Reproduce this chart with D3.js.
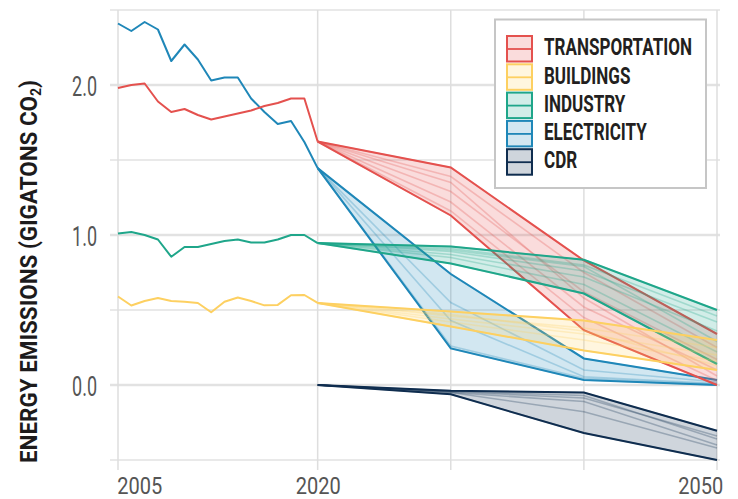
<!DOCTYPE html>
<html><head><meta charset="utf-8">
<script src="https://cdn.jsdelivr.net/npm/d3@7"></script>
<style>
html,body{margin:0;padding:0;background:#fff;}
svg{display:block;}
</style></head>
<body>
<svg id="chart" width="738" height="499"></svg>
<script>
// ---------- DATA ----------
const histYears = [2005,2006,2007,2008,2009,2010,2011,2012,2013,2014,2015,2016,2017,2018,2019,2020];
const transportHist   = [1.98,2.00,2.01,1.89,1.82,1.84,1.80,1.77,1.79,1.81,1.83,1.86,1.88,1.91,1.91,1.623];
const buildingsHist   = [0.59,0.53,0.56,0.58,0.56,0.555,0.547,0.485,0.555,0.583,0.56,0.531,0.534,0.598,0.60,0.547];
const industryHist    = [1.01,1.02,1.00,0.97,0.855,0.92,0.92,0.94,0.96,0.97,0.95,0.95,0.97,1.00,1.00,0.946];
const electricityHist = [2.41,2.36,2.42,2.37,2.16,2.27,2.17,2.03,2.05,2.05,1.91,1.82,1.74,1.76,1.62,1.446];

const scenYears = [2020,2030,2040,2050];
// scenario values for 2030, 2040, 2050 (2020 starts from the last historical value)
const transportScen = [
  [1.45,0.83,0.34],[1.13,0.365,0.00],[1.39,0.75,0.25],[1.29,0.62,0.17],
  [1.22,0.52,0.10],[1.16,0.45,0.03],[1.35,0.58,0.06]
];
const buildingsScen = [
  [0.49,0.43,0.30],[0.39,0.23,0.10],[0.46,0.38,0.25],[0.44,0.34,0.20],
  [0.42,0.30,0.16],[0.47,0.36,0.13]
];
const industryScen = [
  [0.924,0.835,0.50],[0.81,0.61,0.14],[0.91,0.80,0.46],[0.89,0.76,0.42],
  [0.87,0.72,0.36],[0.90,0.79,0.29],[0.85,0.67,0.22]
];
const electricityScen = [
  [0.74,0.177,0.033],[0.244,0.033,0.0],[0.43,0.055,0.01],[0.26,0.045,0.005],[0.55,0.10,0.02]
];
const cdrBase = 0.0;
const cdrScen = [
  [-0.038,-0.05,-0.305],[-0.062,-0.32,-0.50],[-0.045,-0.087,-0.34],[-0.05,-0.11,-0.40],
  [-0.05,-0.178,-0.42],[-0.042,-0.07,-0.36]
];

const sectorNames = ["TRANSPORTATION","BUILDINGS","INDUSTRY","ELECTRICITY","CDR"];
const sectorColors = ["#e4514e","#fdd061","#1fa68a","#1f87b8","#0f2d4f"];

const yTicks = [0,1,2];
const yGrid = [-0.5,0,0.5,1,1.5,2,2.5];
const xTicks = [2005,2020,2050];
const xGrid = [2005,2020,2030,2040,2050];
const yTitle = "ENERGY EMISSIONS (GIGATONS CO";
const yTitleSub = "2";

const FONT = "Roboto, 'DejaVu Sans Condensed', sans-serif";

// ---------- SCALES ----------
const svg = d3.select("#chart");
const x = d3.scaleLinear().domain([2005,2050]).range([118,717]);
const y = d3.scaleLinear().domain([0,0.5]).range([385,310]);

// ---------- GRID ----------
const grid = svg.append("g");
grid.selectAll("line.h").data(yGrid).join("line")
  .attr("x1",110).attr("x2",720)
  .attr("y1",d=>y(d)).attr("y2",d=>y(d))
  .attr("stroke","#e2e2e2")
  .attr("stroke-width",d=>Number.isInteger(d)?2.4:1.5);
grid.selectAll("line.v").data(xGrid).join("line")
  .attr("x1",d=>x(d)).attr("x2",d=>x(d))
  .attr("y1",y(2.5)).attr("y2",470)
  .attr("stroke","#dedede").attr("stroke-width",1.5);

// ---------- SERIES ----------
const sectors = [
  {hist:transportHist, scen:transportScen, color:sectorColors[0]},
  {hist:buildingsHist, scen:buildingsScen, color:sectorColors[1]},
  {hist:industryHist, scen:industryScen, color:sectorColors[2]},
  {hist:electricityHist, scen:electricityScen, color:sectorColors[3]},
  {hist:null, scen:cdrScen, color:sectorColors[4], base:cdrBase}
];

const line = d3.line().x(d=>x(d[0])).y(d=>y(d[1]));
const area = d3.area().x(d=>x(d.yr)).y0(d=>y(d.lo)).y1(d=>y(d.hi));

const drawOrder = [4,3,0,2,1];
drawOrder.forEach(i=>{
  const s = sectors[i];
  const base = s.hist ? s.hist[s.hist.length-1] : s.base;
  const scenLines = s.scen.map(v=>[base].concat(v));
  const env = scenYears.map((yr,k)=>({
    yr, lo:d3.min(scenLines,l=>l[k]), hi:d3.max(scenLines,l=>l[k])
  }));
  const g = svg.append("g");
  g.append("path").attr("d",area(env))
    .attr("fill",s.color).attr("fill-opacity",0.2).attr("stroke","none");
  scenLines.forEach(l=>{
    g.append("path").attr("d",line(scenYears.map((yr,k)=>[yr,l[k]])))
      .attr("fill","none").attr("stroke",s.color).attr("stroke-opacity",0.28)
      .attr("stroke-width",1.6);
  });
  g.append("path").attr("d",line(env.map(d=>[d.yr,d.hi])))
    .attr("fill","none").attr("stroke",s.color).attr("stroke-width",2);
  g.append("path").attr("d",line(env.map(d=>[d.yr,d.lo])))
    .attr("fill","none").attr("stroke",s.color).attr("stroke-width",2);
  if(s.hist){
    g.append("path").attr("d",line(histYears.map((yr,k)=>[yr,s.hist[k]])))
      .attr("fill","none").attr("stroke",s.color).attr("stroke-width",2)
      .attr("stroke-linejoin","round");
  }
});

// helper: horizontal squeeze so a reference text reaches a target width
function squeeze(sel, targetWidth){
  const w = sel.node().getComputedTextLength();
  return w>0 ? targetWidth / w : 1;
}

// ---------- AXES ----------
const yAxis = svg.append("g").attr("transform","translate(110,0)")
  .call(d3.axisLeft(y).tickValues(yTicks).tickSize(0).tickFormat(d3.format(".1f")));
yAxis.select(".domain").remove();
const yTexts = yAxis.selectAll("text")
  .attr("x",0).attr("dy",null).attr("dominant-baseline","central")
  .attr("text-anchor","end")
  .attr("fill","#555")
  .style("font-family",FONT)
  .style("font-size","28px");
const ySx = squeeze(d3.select(yTexts.nodes()[0]), 25);
yTexts.attr("transform",`translate(-13,1) scale(${ySx},1)`);

const xAxis = svg.append("g").attr("transform","translate(0,470)")
  .call(d3.axisBottom(x).tickValues(xTicks).tickSize(0).tickFormat(d3.format("d")));
xAxis.select(".domain").remove();
const xTexts = xAxis.selectAll("text")
  .attr("y",0).attr("dy",null).attr("x",0)
  .attr("fill","#555")
  .style("font-family",FONT)
  .style("font-size","24px");
const xSx = squeeze(d3.select(xTexts.nodes()[0]), 45);
xTexts
  .attr("text-anchor",(d,i)=> i===0?"start":(i===xTicks.length-1?"end":"middle"))
  .attr("transform",(d,i)=>{
    const dx = i===0?-1.3:(i===xTicks.length-1?5.7:0);
    return `translate(${dx},24) scale(${xSx},1)`;
  });

// y title
const yt = svg.append("text")
  .attr("transform","translate(37,271.5) rotate(-90)")
  .attr("text-anchor","middle")
  .attr("textLength",383).attr("lengthAdjust","spacingAndGlyphs")
  .attr("fill","#1d1b1c")
  .style("font-family",FONT)
  .style("font-weight","bold").style("font-size","24px");
yt.append("tspan").text(yTitle);
yt.append("tspan").attr("dy",4).style("font-size","15px").text(yTitleSub);
yt.append("tspan").attr("dy",-4).text(")");

// ---------- LEGEND ----------
const lg = svg.append("g");
lg.append("rect").attr("x",495).attr("y",19.5).attr("width",211).attr("height",168.5)
  .attr("fill","#fff").attr("stroke","#c6c6c6").attr("stroke-width",2);
const legTexts = [];
sectorNames.forEach((name,i)=>{
  const cy = 36 + i*28.3;
  lg.append("rect").attr("x",507).attr("y",cy).attr("width",25).attr("height",25.5)
    .attr("fill",sectorColors[i]).attr("fill-opacity",0.2)
    .attr("stroke",sectorColors[i]).attr("stroke-width",2);
  lg.append("line").attr("x1",507).attr("x2",532).attr("y1",cy+13).attr("y2",cy+13)
    .attr("stroke",sectorColors[i]).attr("stroke-width",1.8);
  const t = lg.append("text")
    .attr("fill","#231f20")
    .style("font-family",FONT)
    .style("font-weight","bold").style("font-size","23.5px")
    .text(name);
  legTexts.push({t, cy});
});
const lSx = squeeze(legTexts[0].t, 148);
legTexts.forEach(({t,cy})=> t.attr("transform",`translate(544,${cy+19.2}) scale(${lSx},1)`));
</script>
</body></html>
